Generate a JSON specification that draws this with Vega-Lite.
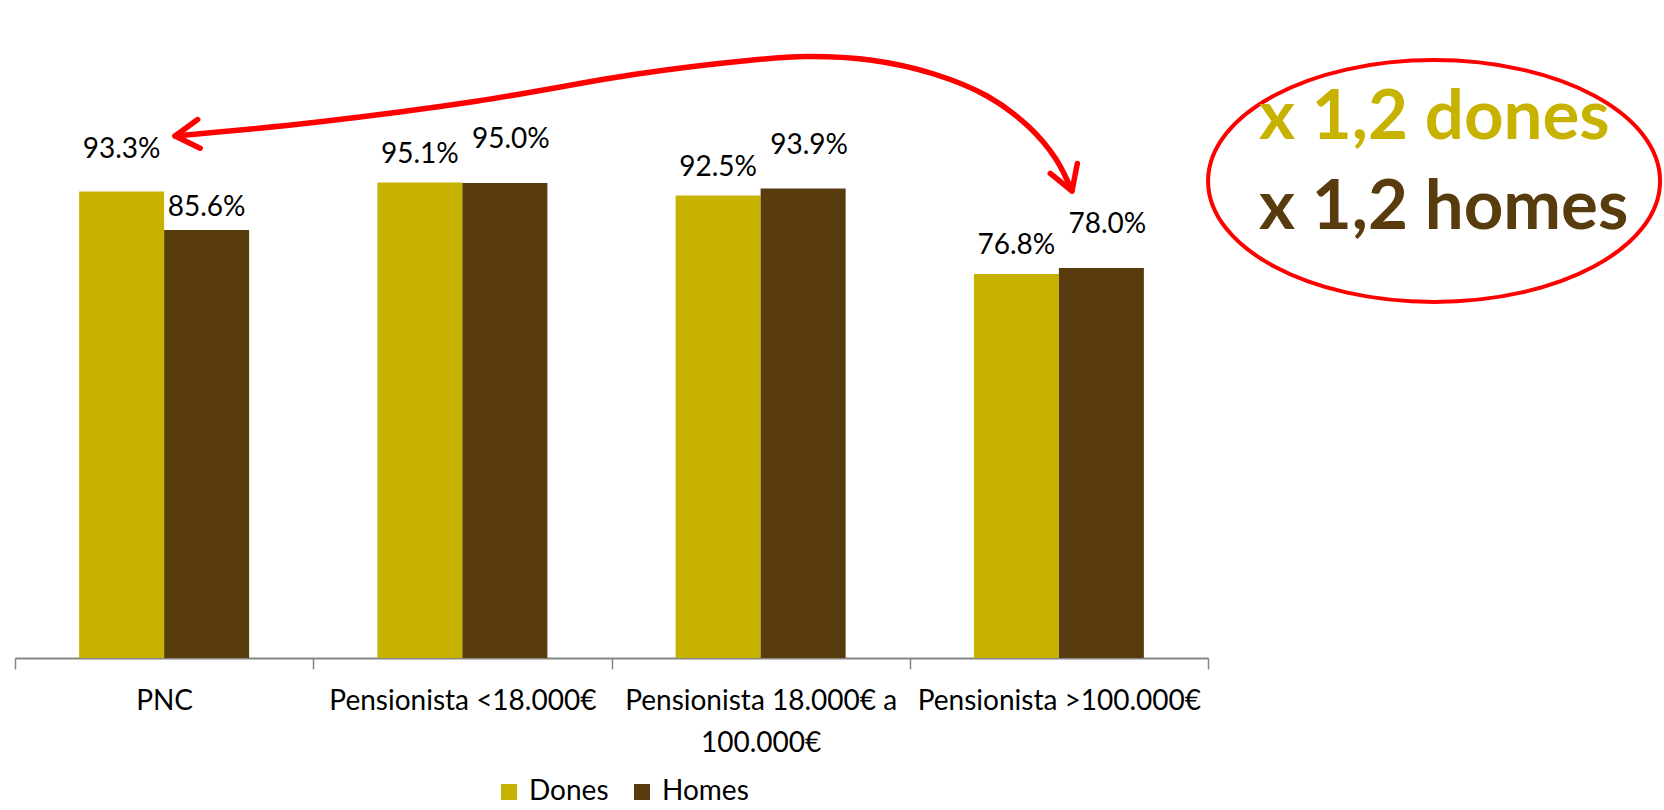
{
  "$schema": "https://vega.github.io/schema/vega-lite/v6.json",
  "width": 1193,
  "height": 500,
  "autosize": {"type": "none"},
  "padding": {"left": 15, "top": 158, "right": 456, "bottom": 152},
  "background": "white",
  "config": {"view": {"stroke": null}, "font": "Lato"},
  "datasets": {
    "bars": [
      {"cat": "PNC", "sexe": "Dones", "v": 0.933},
      {"cat": "PNC", "sexe": "Homes", "v": 0.856},
      {"cat": "Pensionista <18.000€", "sexe": "Dones", "v": 0.951},
      {"cat": "Pensionista <18.000€", "sexe": "Homes", "v": 0.950},
      {"cat": "Pensionista 18.000€ a 100.000€", "sexe": "Dones", "v": 0.925},
      {"cat": "Pensionista 18.000€ a 100.000€", "sexe": "Homes", "v": 0.939},
      {"cat": "Pensionista >100.000€", "sexe": "Dones", "v": 0.768},
      {"cat": "Pensionista >100.000€", "sexe": "Homes", "v": 0.780}
    ],
    "arrow": [
      {"o": 1, "ax": 0.5365, "ay": 1.044},
      {"o": 2, "ax": 1.016, "ay": 1.072},
      {"o": 3, "ax": 1.552, "ay": 1.114},
      {"o": 4, "ax": 2.086, "ay": 1.168},
      {"o": 5, "ax": 2.441, "ay": 1.194},
      {"o": 6, "ax": 2.652, "ay": 1.203},
      {"o": 7, "ax": 2.867, "ay": 1.196},
      {"o": 8, "ax": 3.081, "ay": 1.168},
      {"o": 9, "ax": 3.259, "ay": 1.124},
      {"o": 10, "ax": 3.400, "ay": 1.062},
      {"o": 11, "ax": 3.490, "ay": 0.998},
      {"o": 12, "ax": 3.544, "ay": 0.934}
    ],
    "heads": [
      {"end": "left", "ax": 0.5365, "ay": 1.044},
      {"end": "right", "ax": 3.544, "ay": 0.934}
    ],
    "note": [
      {"t": "x 1,2 dones", "k": "Dones", "ax": 4.171, "ay": 1.038},
      {"t": "x 1,2 homes", "k": "Homes", "ax": 4.171, "ay": 0.858}
    ],
    "oval": [
      {"ax": 4.758, "ay": 0.954}
    ]
  },
  "layer": [
    {
      "data": {"name": "bars"},
      "encoding": {
        "x": {
          "field": "cat",
          "type": "nominal",
          "sort": null,
          "scale": {"paddingInner": 0, "paddingOuter": 0},
          "axis": {
            "title": null,
            "labelAngle": 0,
            "labelFont": "Lato",
            "labelFontSize": 28,
            "labelColor": "#000000",
            "labelPadding": 18,
            "labelLineHeight": 42,
            "labelLimit": 0,
            "tickBand": "extent",
            "tickSize": 11,
            "tickColor": "#868686",
            "tickWidth": 1.5,
            "domainColor": "#868686",
            "domainWidth": 2,
            "labelExpr": "datum.value == 'Pensionista 18.000€ a 100.000€' ? ['Pensionista 18.000€ a', '100.000€'] : datum.label"
          }
        },
        "xOffset": {
          "field": "sexe",
          "type": "nominal",
          "scale": {"paddingInner": 0, "paddingOuter": 0.7544}
        },
        "y": {
          "field": "v",
          "type": "quantitative",
          "scale": {"domain": [0, 1]},
          "axis": null
        }
      },
      "layer": [
        {
          "mark": {"type": "bar"},
          "encoding": {
            "color": {
              "field": "sexe",
              "type": "nominal",
              "scale": {"domain": ["Dones", "Homes"], "range": ["#C8B200", "#583C0E"]},
              "legend": {
                "title": null,
                "orient": "none",
                "legendX": 480,
                "legendY": 620,
                "direction": "horizontal",
                "symbolType": "square",
                "symbolSize": 256,
                "symbolStrokeWidth": 0,
                "labelFont": "Lato",
                "labelFontSize": 28,
                "labelColor": "#000000",
                "labelOffset": 6,
                "columnPadding": 19
              }
            }
          }
        },
        {
          "transform": [{"filter": "datum.sexe == 'Dones' && datum.cat != 'PNC'"}],
          "mark": {"type": "text", "font": "Lato", "fontSize": 28, "color": "#000000", "baseline": "middle", "dy": -28},
          "encoding": {"text": {"field": "v", "type": "quantitative", "format": ".1%"}}
        },
        {
          "transform": [{"filter": "datum.sexe == 'Homes' && datum.cat != 'PNC'"}],
          "mark": {"type": "text", "font": "Lato", "fontSize": 28, "color": "#000000", "baseline": "middle", "dy": -43, "dx": 6},
          "encoding": {"text": {"field": "v", "type": "quantitative", "format": ".1%"}}
        },
        {
          "transform": [{"filter": "datum.sexe == 'Dones' && datum.cat == 'PNC'"}],
          "mark": {"type": "text", "font": "Lato", "fontSize": 28, "color": "#000000", "baseline": "middle", "dy": -42},
          "encoding": {"text": {"field": "v", "type": "quantitative", "format": ".1%"}}
        },
        {
          "transform": [{"filter": "datum.sexe == 'Homes' && datum.cat == 'PNC'"}],
          "mark": {"type": "text", "font": "Lato", "fontSize": 28, "color": "#000000", "baseline": "middle", "dy": -22},
          "encoding": {"text": {"field": "v", "type": "quantitative", "format": ".1%"}}
        }
      ]
    },
    {
      "layer": [
        {
          "data": {"name": "arrow"},
          "mark": {"type": "line", "interpolate": "catmull-rom", "color": "#FF0000", "strokeWidth": 5.5, "strokeCap": "round"},
          "encoding": {
            "x": {"field": "ax", "type": "quantitative", "scale": {"domain": [0, 4]}, "axis": null},
            "y": {"field": "ay", "type": "quantitative", "scale": {"domain": [0, 1]}, "axis": null},
            "order": {"field": "o", "type": "quantitative"}
          }
        },
        {
          "data": {"name": "heads"},
          "transform": [{"filter": "datum.end == 'left'"}],
          "mark": {"type": "point", "shape": "M0.857,-0.514L0,0L0.857,0.514", "size": 3136, "filled": false, "color": "#FF0000", "strokeWidth": 5.5, "strokeCap": "round", "strokeJoin": "round", "opacity": 1, "angle": -5},
          "encoding": {
            "x": {"field": "ax", "type": "quantitative", "scale": {"domain": [0, 4]}, "axis": null},
            "y": {"field": "ay", "type": "quantitative", "scale": {"domain": [0, 1]}, "axis": null}
          }
        },
        {
          "data": {"name": "heads"},
          "transform": [{"filter": "datum.end == 'right'"}],
          "mark": {"type": "point", "shape": "M0.857,-0.514L0,0L0.857,0.514", "size": 3136, "filled": false, "color": "#FF0000", "strokeWidth": 5.5, "strokeCap": "round", "strokeJoin": "round", "opacity": 1, "angle": 250},
          "encoding": {
            "x": {"field": "ax", "type": "quantitative", "scale": {"domain": [0, 4]}, "axis": null},
            "y": {"field": "ay", "type": "quantitative", "scale": {"domain": [0, 1]}, "axis": null}
          }
        },
        {
          "data": {"name": "oval"},
          "mark": {"type": "point", "shape": "M-1,0A1,0.535,0,1,1,1,0A1,0.535,0,1,1,-1,0Z", "size": 204304, "filled": false, "color": "#FF0000", "strokeWidth": 4, "opacity": 1},
          "encoding": {
            "x": {"field": "ax", "type": "quantitative", "scale": {"domain": [0, 4]}, "axis": null},
            "y": {"field": "ay", "type": "quantitative", "scale": {"domain": [0, 1]}, "axis": null}
          }
        },
        {
          "data": {"name": "note"},
          "mark": {"type": "text", "font": "Lato", "fontSize": 69, "fontWeight": "bold", "align": "left", "baseline": "alphabetic"},
          "encoding": {
            "x": {"field": "ax", "type": "quantitative", "scale": {"domain": [0, 4]}, "axis": null},
            "y": {"field": "ay", "type": "quantitative", "scale": {"domain": [0, 1]}, "axis": null},
            "text": {"field": "t", "type": "nominal"},
            "color": {"field": "k", "type": "nominal", "scale": {"domain": ["Dones", "Homes"], "range": ["#C8B200", "#583C0E"]}, "legend": null}
          }
        }
      ]
    }
  ],
  "resolve": {"scale": {"x": "independent"}}
}
